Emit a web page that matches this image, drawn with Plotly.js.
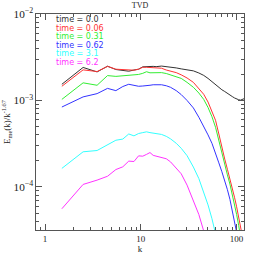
<!DOCTYPE html>
<html><head><meta charset="utf-8">
<script src="https://cdn.plot.ly/plotly-3.0.1.min.js"></script>
<style>html,body{margin:0;padding:0;background:#fff}#g{width:258px;height:258px}</style>
</head><body><div id="g"></div>
<script>
const k = [1.5,2.5,3.5,4.5,5.5,6.5,7.5,8.5,9.5,10.5,11.5,12.5,13.5,14.5,16.5,18.5,20.5,23.5,26.5,30.5,35.5,40.5,45.5,50.5,55.5,60.5,65.5,70.5,75.5,80.5,85.5,90.5,95.5,100.5,105.5,110.5,115.5,120.5];
const e_t00 = [1.54e-3,2.41e-3,2.14e-3,2.49e-3,2.28e-3,2.25e-3,2.18e-3,2.25e-3,2.3e-3,2.45e-3,2.48e-3,2.47e-3,2.48e-3,2.46e-3,2.5e-3,2.47e-3,2.44e-3,2.38e-3,2.32e-3,2.26e-3,2.2e-3,2.08e-3,1.95e-3,1.8e-3,1.65e-3,1.52e-3,1.41e-3,1.33e-3,1.27e-3,1.22e-3,1.16e-3,1.11e-3,1.07e-3,1.04e-3,1.02e-3,1.01e-3,1.03e-3,1.05e-3];
const e_t006 = [1.46e-3,2.26e-3,2.16e-3,2.48e-3,2.3e-3,2.27e-3,2.25e-3,2.24e-3,2.3e-3,2.42e-3,2.42e-3,2.4e-3,2.43e-3,2.4e-3,2.36e-3,2.25e-3,2.2e-3,2.1e-3,1.98e-3,1.82e-3,1.62e-3,1.38e-3,1.18e-3,9.6e-4,7.6e-4,5.9e-4,4.1e-4,2.8e-4,2.1e-4,1.6e-4,1.25e-4,9.8e-5,7.6e-5,5.9e-5,4.5e-5,3.5e-5,2.7e-5,2.1e-5];
const e_t031 = [1.03e-3,1.6e-3,1.5e-3,1.94e-3,1.9e-3,1.93e-3,1.96e-3,1.98e-3,2.0e-3,2.06e-3,2.15e-3,2.09e-3,2.1e-3,2.1e-3,2.1e-3,2.05e-3,1.98e-3,1.9e-3,1.8e-3,1.62e-3,1.42e-3,1.22e-3,1.03e-3,8.3e-4,6.5e-4,4.9e-4,3.4e-4,2.4e-4,1.8e-4,1.38e-4,1.08e-4,8.3e-5,6.3e-5,4.8e-5,3.6e-5,2.7e-5,2.0e-5,1.5e-5];
const e_t062 = [8.4e-4,1.1e-3,1.2e-3,1.38e-3,1.3e-3,1.45e-3,1.54e-3,1.5e-3,1.46e-3,1.47e-3,1.5e-3,1.5e-3,1.52e-3,1.53e-3,1.52e-3,1.48e-3,1.42e-3,1.3e-3,1.17e-3,1.0e-3,8.2e-4,6.4e-4,5.1e-4,4.0e-4,3.2e-4,2.5e-4,1.9e-4,1.5e-4,1.2e-4,9.3e-5,7.2e-5,5.5e-5,4.2e-5,3.2e-5,2.4e-5,1.8e-5,1.4e-5,1.0e-5];
const e_t31 = [1.64e-4,2.55e-4,2.64e-4,3.04e-4,3.47e-4,3.58e-4,4.1e-4,3.9e-4,4.15e-4,4.25e-4,4.34e-4,4.25e-4,4.18e-4,4.15e-4,4.05e-4,3.85e-4,3.6e-4,3.2e-4,2.8e-4,2.3e-4,1.7e-4,1.25e-4,8.8e-5,6.2e-5,4.3e-5,3.0e-5,2.0e-5];
const e_t62 = [5.6e-5,1.07e-4,1.2e-4,1.33e-4,1.59e-4,1.71e-4,1.99e-4,1.97e-4,2.29e-4,2.27e-4,2.38e-4,2.5e-4,2.32e-4,2.28e-4,2.22e-4,2.12e-4,1.95e-4,1.65e-4,1.42e-4,1.05e-4,6.8e-5,4.8e-5,3.1e-5,1.9e-5];
const labels = ["time = 0.0","time = 0.06","time = 0.31","time = 0.62","time = 3.1","time = 6.2"];
const colors = ["#333333","#ff3333","#33ee33","#3333ff","#33ffff","#ff33ff"];
const series = [e_t00,e_t006,e_t031,e_t062,e_t31,e_t62];

const traces = series.map((y,i)=>({
  x: k.slice(0,y.length), y: y, type:'scatter', mode:'lines',
  line:{color:colors[i], width:1}, showlegend:false
}));
const annotations = labels.map((t,i)=>({
  text:t, xref:'paper', yref:'paper', x:0.09, y:0.975 - i*0.04, xanchor:'left', yanchor:'middle',
  showarrow:false, borderpad:0, font:{family:'DejaVu Sans', size:8, color:colors[i]}
}));
const axFont = {family:'Liberation Serif, Times New Roman, serif', size:9, color:'#222'};
const layout = {
  width:258, height:258,
  margin:{l:36, r:14, t:14, b:28},
  paper_bgcolor:'#fff', plot_bgcolor:'#fff',
  title:{text:'TVD', font:{family:'Liberation Serif, serif', size:8, color:'#222'}, x:0.5, xref:'paper', y:0.99, yanchor:'top'},
  xaxis:{type:'log', range:[Math.log10(0.805), Math.log10(120)], dtick:1, ticks:'inside', ticklen:6, tickcolor:'#555',
    showline:true, linecolor:'#555', linewidth:1, mirror:'ticks', showgrid:false, zeroline:false,
    tickfont:axFont, minor:{ticks:'inside', ticklen:3, dtick:'D1', tickcolor:'#555', showgrid:false},
    title:{text:'k', font:axFont, standoff:2}},
  yaxis:{type:'log', range:[Math.log10(3.18e-5), -2], dtick:1, exponentformat:'power', ticks:'inside', ticklen:6, tickcolor:'#555',
    showline:true, linecolor:'#555', linewidth:1, mirror:'ticks', showgrid:false, zeroline:false,
    tickfont:axFont, minor:{ticks:'inside', ticklen:3, dtick:'D1', tickcolor:'#555', showgrid:false},
    title:{text:'E<sub>me</sub>(k)/k<sup>-1.67</sup>', font:axFont, standoff:2}},
  annotations: annotations
};
Plotly.newPlot('g', traces, layout, {staticPlot:true, displayModeBar:false});
</script></body></html>
